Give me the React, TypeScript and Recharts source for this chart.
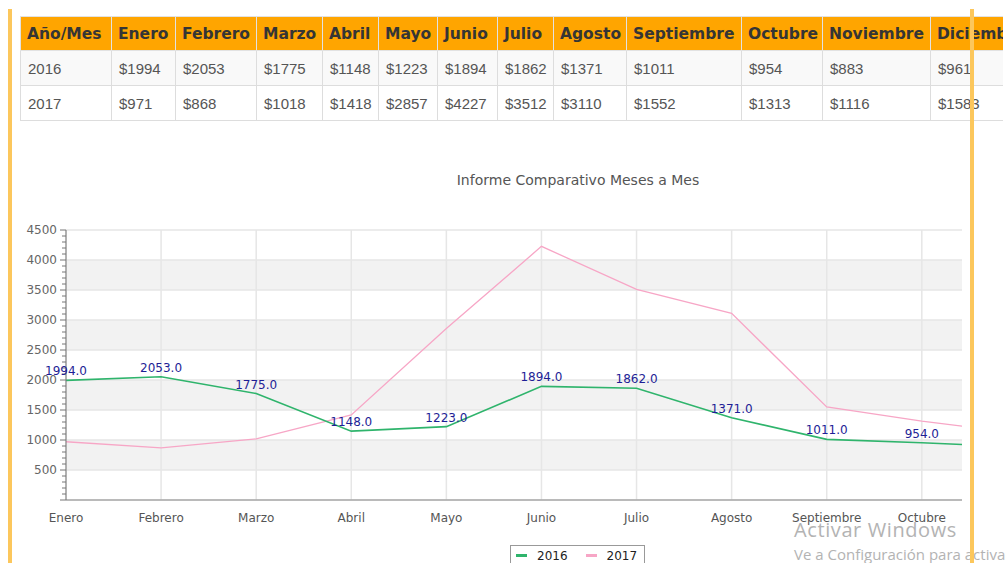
import React from 'react';
import { LineChart, Line, XAxis, YAxis, CartesianGrid, LabelList, Legend } from 'recharts';

const months = ['Enero', 'Febrero', 'Marzo', 'Abril', 'Mayo', 'Junio', 'Julio', 'Agosto', 'Septiembre', 'Octubre', 'Noviembre', 'Diciembre'];
const sales2016 = [1994, 2053, 1775, 1148, 1223, 1894, 1862, 1371, 1011, 954, 883, 961];
const sales2017 = [971, 868, 1018, 1418, 2857, 4227, 3512, 3110, 1552, 1313, 1116, 1583];
const majorTicks = [0, 500, 1000, 1500, 2000, 2500, 3000, 3500, 4000, 4500];
const minorStep = 100;
const chartTitle = 'Informe Comparativo Meses a Mes';
const firstHeader = 'Año/Mes';

const GREEN = '#2fb46c';
const PINK = '#f7a6c6';
const YELLOW = '#fcc75c';

// table column widths (first column + 12 months)
const colWidths = [91, 64, 81, 66, 56, 59, 60, 56, 73, 115, 81, 108, 112];

const chartData = months.map((mes, i) => ({
  mes,
  y2016: sales2016[i],
  y2017: sales2017[i],
}));

// major ticks plus the small ones between them
const yTicks: number[] = [];
for (let v = 0; v <= majorTicks[majorTicks.length - 1]; v += minorStep) yTicks.push(v);

function YTick(props: any) {
  const { x, y, payload } = props;
  const v = payload.value as number;
  const major = v % 500 === 0;
  return (
    <g>
      <line x1={x - (major ? 6 : 4)} x2={x} y1={y} y2={y} stroke="#777" strokeWidth={1} />
      {major && v > 0 && (
        <text x={x - 9} y={y} dy={4} textAnchor="end" fontSize={12} fill="#666">
          {v}
        </text>
      )}
    </g>
  );
}

function LegendBox(props: any) {
  const items = [...(props.payload || [])].sort((a: any, b: any) => String(a.value).localeCompare(String(b.value)));
  return (
    <div
      style={{
        border: '1px solid #999',
        background: '#fff',
        display: 'flex',
        alignItems: 'center',
        height: 19,
        padding: '0 7px 0 5px',
        fontSize: 12,
        color: '#222',
        fontFamily: 'DejaVu Sans',
        whiteSpace: 'nowrap',
      }}
    >
      {items.map((p: any, i: number) => (
        <span key={p.value} style={{ display: 'flex', alignItems: 'center', marginLeft: i ? 18 : 0 }}>
          <span style={{ width: 11, height: 3, background: p.color, marginRight: 10 }} />
          {p.value}
        </span>
      ))}
    </div>
  );
}

const th: React.CSSProperties = {
  background: '#ffa500',
  color: '#353535',
  fontFamily: 'DejaVu Sans',
  fontWeight: 'bold',
  fontSize: 15.5,
  textAlign: 'left',
  padding: '0 6px',
  border: '1px solid #e2e2e2',
  height: 33,
  whiteSpace: 'nowrap',
  overflow: 'hidden',
};

const td: React.CSSProperties = {
  color: '#555',
  fontFamily: 'Liberation Sans',
  fontSize: 15,
  padding: '0 7px',
  border: '1px solid #ddd',
  height: 34,
  whiteSpace: 'nowrap',
};

export default function App() {
  const rows = [
    { year: '2016', values: sales2016, bg: '#f9f9f9' },
    { year: '2017', values: sales2017, bg: '#fff' },
  ];

  return (
    <div style={{ position: 'absolute', left: 0, top: 0, width: 1006, height: 563, overflow: 'hidden', background: '#fff' }}>
      <div style={{ position: 'absolute', left: 0, top: 0, width: 1003, height: 130, overflow: 'hidden' }}>
        <table
          style={{
            position: 'absolute',
            left: 20,
            top: 16,
            borderCollapse: 'collapse',
            tableLayout: 'fixed',
            width: colWidths.reduce((a, b) => a + b, 0),
          }}
        >
          <colgroup>
            {colWidths.map((w, i) => (
              <col key={i} style={{ width: w }} />
            ))}
          </colgroup>
          <thead>
            <tr>
              <th style={th}>{firstHeader}</th>
              {months.map((m) => (
                <th key={m} style={th}>
                  {m}
                </th>
              ))}
            </tr>
          </thead>
          <tbody>
            {rows.map((r) => (
              <tr key={r.year} style={{ background: r.bg }}>
                <td style={td}>{r.year}</td>
                {r.values.map((v, i) => (
                  <td key={i} style={td}>
                    ${v}
                  </td>
                ))}
              </tr>
            ))}
          </tbody>
        </table>
      </div>

      <div
        style={{
          position: 'absolute',
          left: 328,
          top: 172,
          width: 500,
          textAlign: 'center',
          fontFamily: 'DejaVu Sans',
          fontSize: 14,
          lineHeight: '16px',
          color: '#555',
        }}
      >
        {chartTitle}
      </div>

      <div style={{ position: 'absolute', left: 0, top: 200, width: 962, height: 363, overflow: 'hidden' }}>
        <LineChart
          width={1200}
          height={340}
          data={chartData}
          margin={{ top: 30, right: 88, bottom: 0, left: 0 }}
          style={{ fontFamily: 'DejaVu Sans' }}
        >
          <CartesianGrid
            horizontalValues={majorTicks}
            horizontalFill={['none', '#f2f2f2']}
            stroke="none"
            vertical={false}
          />
          <CartesianGrid horizontalValues={majorTicks} stroke="#e6e6e6" strokeWidth={1.5} fill="none" />
          <XAxis
            dataKey="mes"
            interval={0}
            tickLine={false}
            tickSize={6}
            tickMargin={7}
            height={40}
            padding={{ left: 0, right: 0 }}
            axisLine={{ stroke: '#888' }}
            tick={{ fontSize: 12, fill: '#555' }}
          />
          <YAxis
            width={66}
            domain={[0, 4500]}
            ticks={yTicks}
            interval={0}
            tickSize={0}
            tickMargin={0}
            tickLine={false}
            axisLine={{ stroke: '#777' }}
            tick={<YTick />}
          />
          <Line
            type="linear"
            dataKey="y2017"
            name="2017"
            stroke={PINK}
            strokeWidth={1.3}
            dot={false}
            isAnimationActive={false}
          />
          <Line
            type="linear"
            dataKey="y2016"
            name="2016"
            stroke={GREEN}
            strokeWidth={1.6}
            dot={false}
            isAnimationActive={false}
          >
            <LabelList
              dataKey="y2016"
              position="top"
              offset={5}
              fontSize={12}
              fill="#1e1e96"
              formatter={(v: any) => Number(v).toFixed(1)}
            />
          </Line>
          <Legend
            layout="horizontal"
            verticalAlign="middle"
            align="center"
            content={<LegendBox />}
            wrapperStyle={{ position: 'absolute', top: 345, left: 510, width: 'auto', height: 'auto' }}
          />
        </LineChart>
      </div>

      <div
        style={{
          position: 'absolute',
          left: 794,
          top: 520,
          fontFamily: 'Open Sans',
          fontSize: 20,
          lineHeight: '20px',
          letterSpacing: 0.6,
          color: '#b3b3b3',
          whiteSpace: 'nowrap',
        }}
      >
        Activar Windows
      </div>
      <div
        style={{
          position: 'absolute',
          left: 794,
          top: 547,
          fontFamily: 'Open Sans',
          fontSize: 15,
          lineHeight: '15px',
          color: '#b3b3b3',
          whiteSpace: 'nowrap',
        }}
      >
        Ve a Configuración para activar Windows
      </div>

      <div style={{ position: 'absolute', left: 8, top: 9, width: 4, height: 560, background: YELLOW }} />
      <div style={{ position: 'absolute', left: 970, top: 9, width: 4, height: 560, background: YELLOW }} />
    </div>
  );
}
